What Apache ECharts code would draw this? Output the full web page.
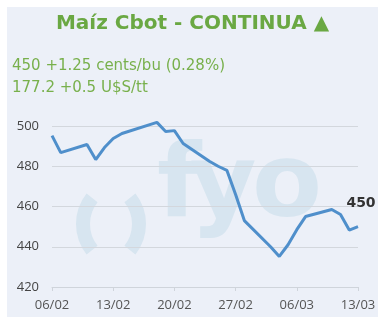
<!DOCTYPE html>
<html><head><meta charset="utf-8">
<script src="https://cdn.jsdelivr.net/npm/echarts@6/dist/echarts.min.js"></script>
<style>html,body{margin:0;padding:0;background:#fff}#c{width:385px;height:331px}</style>
</head><body><div id="c"></div>
<script>
const dates = ["06/02","07/02","10/02","11/02","12/02","13/02","14/02","18/02","19/02","20/02","21/02","24/02","25/02","26/02","27/02","28/02","03/03","04/03","05/03","06/03","07/03","10/03","11/03","12/03","13/03"];
const prices = [495.2,486.8,490.8,483.3,489.3,493.8,496.3,501.8,497.3,497.7,491.3,482.5,480,478,466,453,440,435.2,441,448.5,455,458.5,456,448.3,450];
const xTickLabels = ["06/02","13/02","20/02","27/02","06/03","13/03"];
const yTicks = [420,440,460,480,500];
const title = "Maíz Cbot - CONTINUA ▲";
const line1 = "450 +1.25 cents/bu (0.28%)";
const line2 = "177.2 +0.5 U$S/tt";

const year = 2025;
function dayOffset(s){
  const [d,m] = s.split("/").map(Number);
  const t = Date.UTC(year, m-1, d);
  const t0 = Date.UTC(year, 1, 6);
  return Math.round((t - t0)/86400000);
}
const data = prices.map((v,i)=>{
  const o = {value:[dayOffset(dates[i]), v]};
  if (i === prices.length-1) {
    o.label = {show:true, position:'top', formatter: String(Math.round(v)), fontWeight:'bold', fontSize:14, color:'#333', fontFamily:'DejaVu Sans', offset:[3,-11]};
  }
  return o;
});
const tickOffsets = xTickLabels.map(dayOffset);
const wm = '#d7e5f0';

const chart = echarts.init(document.getElementById('c'), null, {renderer:'canvas'});
chart.setOption({
  animation:false,
  backgroundColor:'#ffffff',
  graphic:[
    {type:'rect', shape:{x:7,y:7,width:371,height:310}, style:{fill:'#ecf0f8'}, z:-10},
    {type:'text', left:'center', top:14, style:{text:title, font:'bold 20px "DejaVu Sans"', fill:'#6aa843'}},
    {type:'text', left:12, top:59, style:{text:line1, font:'15px "DejaVu Sans"', fill:'#78b04c'}},
    {type:'text', left:12, top:81, style:{text:line2, font:'15px "DejaVu Sans"', fill:'#78b04c'}},
    {type:'text', style:{x:157, y:189, text:'f', font:'bold 102px "DejaVu Sans"', fill:wm, textVerticalAlign:'middle'}, z:-5},
    {type:'text', style:{x:190, y:189, text:'y', font:'bold 102px "DejaVu Sans"', fill:wm, textVerticalAlign:'middle'}, z:-5},
    {type:'text', style:{x:252, y:189, text:'o', font:'bold 102px "DejaVu Sans"', fill:wm, textVerticalAlign:'middle'}, z:-5},
    {type:'arc', shape:{cx:125, cy:224, r:42, startAngle:Math.PI-0.67, endAngle:Math.PI+0.67}, style:{stroke:wm, lineWidth:14, fill:null}, z:-5},
    {type:'arc', shape:{cx:97, cy:224, r:42, startAngle:-0.67, endAngle:0.67}, style:{stroke:wm, lineWidth:14, fill:null}, z:-5}
  ],
  grid:{left:52, right:27, top:126, bottom:44},
  xAxis:{
    type:'value', min:0, max:35, interval:7,
    axisLine:{show:true, lineStyle:{color:'#cfd4db'}},
    axisTick:{show:true, length:4, lineStyle:{color:'#cfd4db'}},
    splitLine:{show:false},
    axisLabel:{color:'#555', fontSize:13, fontFamily:'Open Sans', margin:12,
      formatter:(v)=>{const i=tickOffsets.indexOf(v); return i>=0?xTickLabels[i]:'';}}
  },
  yAxis:{
    type:'value', min:yTicks[0], max:yTicks[yTicks.length-1], interval:20,
    axisLine:{show:false}, axisTick:{show:false},
    splitLine:{lineStyle:{color:'#d3d7dd'}},
    axisLabel:{color:'#444', fontSize:13, fontFamily:'Open Sans', margin:13}
  },
  series:[{
    type:'line', data:data, symbol:'circle', symbolSize:0.1, showSymbol:true, showAllSymbol:true, clip:false,
    itemStyle:{color:'#4f8fcb'},
    lineStyle:{color:'#4f8fcb', width:3}
  }]
});
</script></body></html>
